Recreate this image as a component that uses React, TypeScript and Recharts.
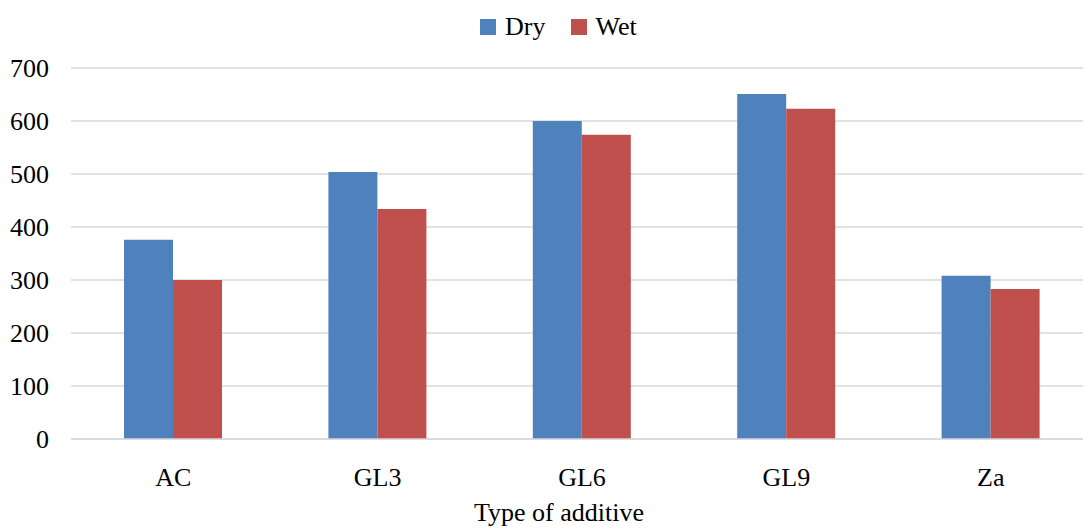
import React from "react";
import { BarChart, Bar, XAxis, YAxis, CartesianGrid, Legend, Label } from "recharts";

const categories = ["AC", "GL3", "GL6", "GL9", "Za"];
const dryValues = [376, 504, 600, 651, 308];
const wetValues = [300, 434, 574, 623, 283];
const yTicks = [0, 100, 200, 300, 400, 500, 600, 700];

const data = categories.map((c, i) => ({ name: c, Dry: dryValues[i], Wet: wetValues[i] }));

const FONT = "Liberation Serif, Tinos, Times New Roman, DejaVu Serif, serif";
const DRY_COLOR = "#4f81bd";
const WET_COLOR = "#c0504d";

const LegendContent = () => (
  <div style={{ position: "absolute", left: 480, top: 12, display: "flex", alignItems: "center", fontFamily: FONT, fontSize: 26, color: "#000", whiteSpace: "nowrap" }}>
    <span style={{ width: 16, height: 16, background: DRY_COLOR, display: "inline-block", marginRight: 9 }} />
    <span style={{ marginRight: 26 }}>Dry</span>
    <span style={{ width: 16, height: 16, background: WET_COLOR, display: "inline-block", marginRight: 8 }} />
    <span>Wet</span>
  </div>
);

export default function App() {
  return (
    <div style={{ position: "absolute", left: 0, top: 0, width: 1083, height: 528, overflow: "hidden", background: "#fff", fontFamily: FONT }}>
      <BarChart
        width={1100}
        height={528}
        data={data}
        margin={{ top: 68, right: 7, bottom: 0, left: 0 }}
        barGap={0}
        style={{ fontFamily: FONT }}
      >
        <CartesianGrid vertical={false} stroke="#d9d9d9" strokeWidth={1.5} />
        <XAxis
          dataKey="name"
          height={89}
          tickLine={false}
          tickSize={0}
          tickMargin={29}
          axisLine={{ stroke: "#d9d9d9", strokeWidth: 1.5 }}
          tick={{ fill: "#000", fontFamily: FONT, fontSize: 26 }}
        >
          <Label value="Type of additive" position="insideBottom" offset={7} dx={-23} style={{ fill: "#000", fontFamily: FONT, fontSize: 26 }} />
        </XAxis>
        <YAxis
          width={71}
          domain={[0, 700]}
          ticks={yTicks}
          axisLine={false}
          tickLine={false}
          tickSize={0}
          tickMargin={22}
          tick={{ fill: "#000", fontFamily: FONT, fontSize: 26 }}
        />
        <Legend verticalAlign="top" content={<LegendContent />} wrapperStyle={{ top: 0, left: 0, width: 1100, height: 0 }} />
        <Bar dataKey="Dry" fill={DRY_COLOR} barSize={49} isAnimationActive={false} />
        <Bar dataKey="Wet" fill={WET_COLOR} barSize={49} isAnimationActive={false} />
      </BarChart>
    </div>
  );
}
